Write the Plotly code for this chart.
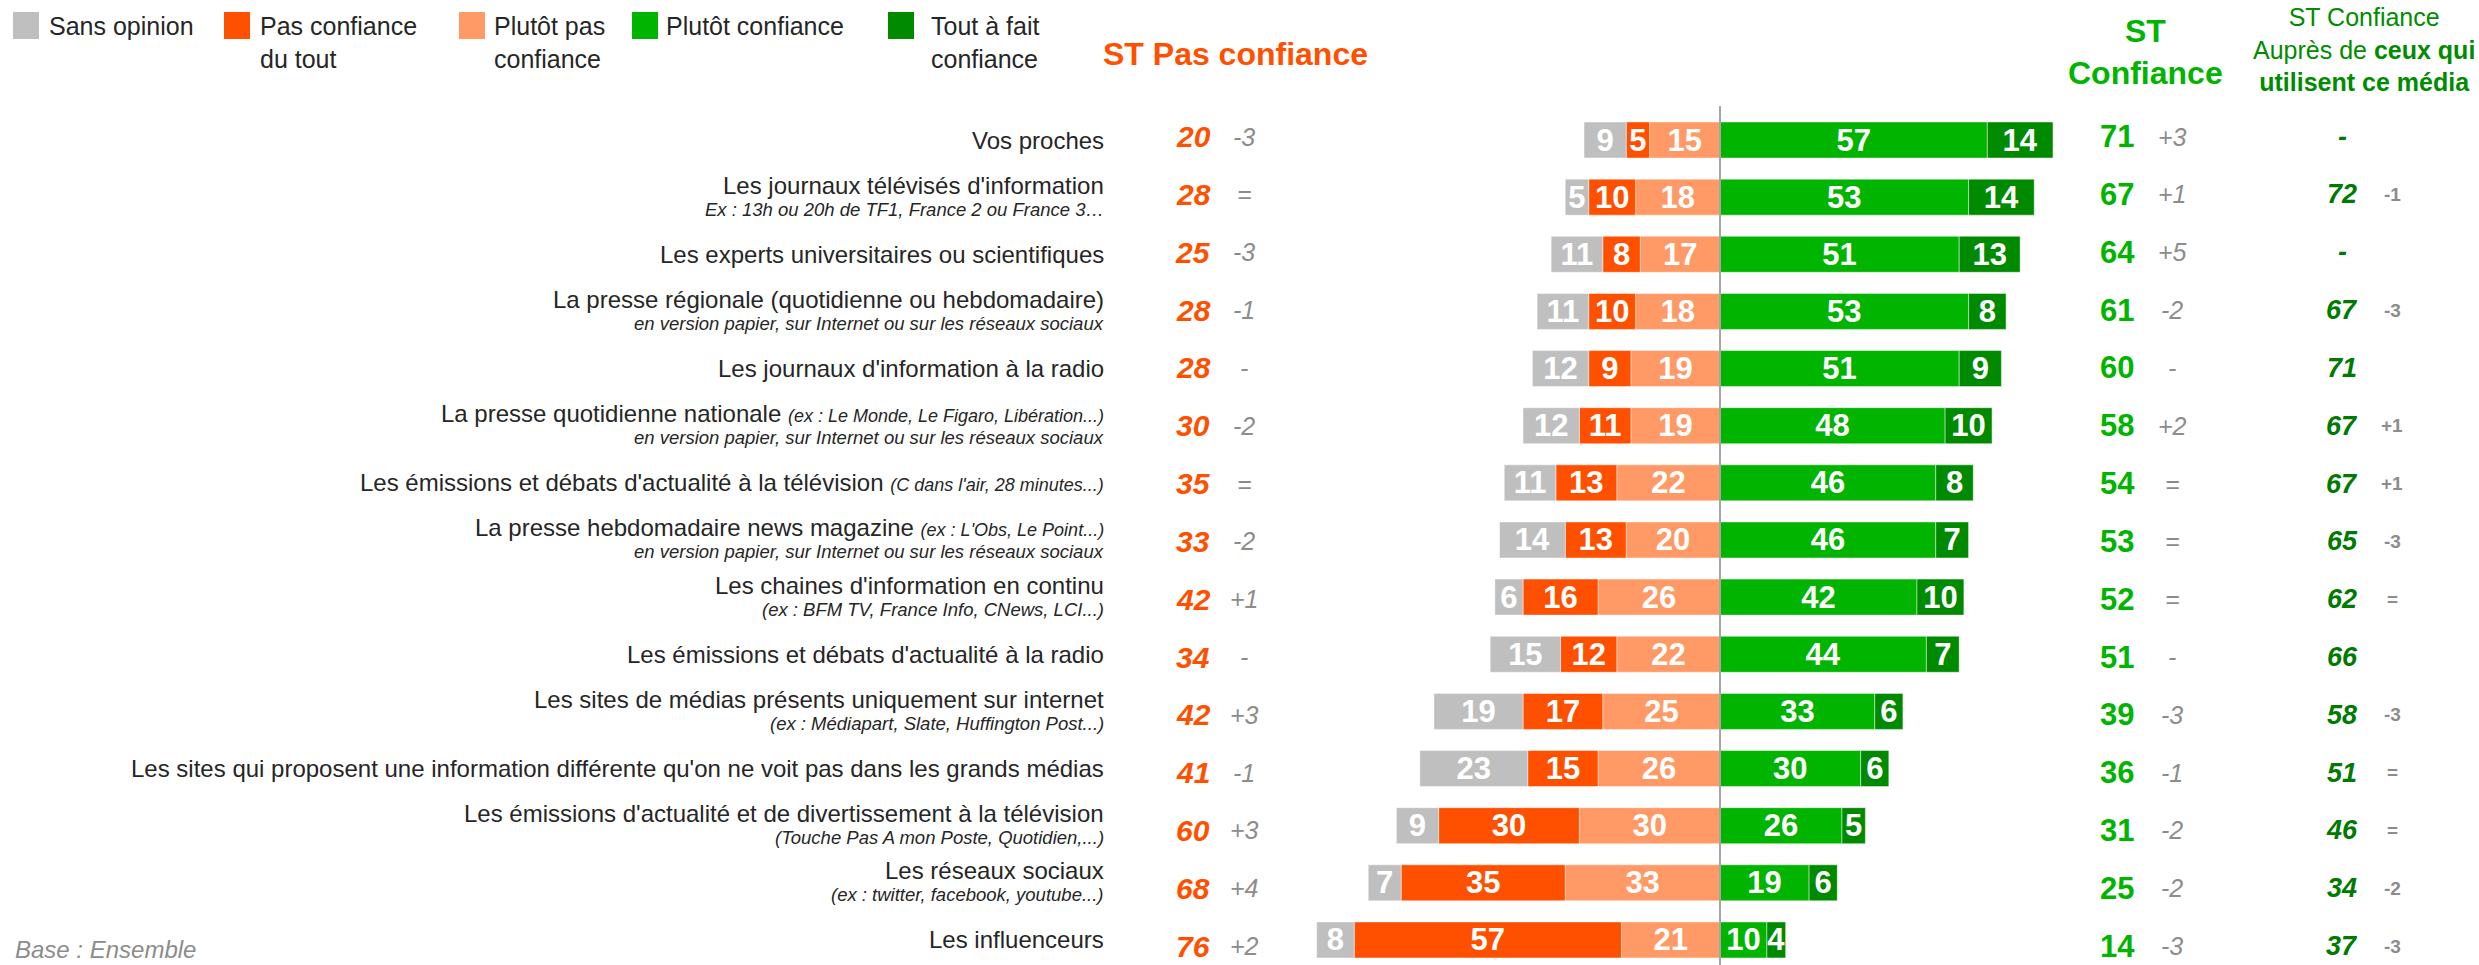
import plotly.graph_objects as go

W, H = 2479, 965

categories = [
    "Vos proches",
    "Les journaux télévisés d'information",
    "Les experts universitaires ou scientifiques",
    "La presse régionale (quotidienne ou hebdomadaire)",
    "Les journaux d'information à la radio",
    "La presse quotidienne nationale",
    "Les émissions et débats d'actualité à la télévision",
    "La presse hebdomadaire news magazine",
    "Les chaines d'information en continu",
    "Les émissions et débats d'actualité à la radio",
    "Les sites de médias présents uniquement sur internet",
    "Les sites qui proposent une information différente qu'on ne voit pas dans les grands médias",
    "Les émissions d'actualité et de divertissement à la télévision",
    "Les réseaux sociaux",
    "Les influenceurs",
]
inline_notes = ["", "", "", "", "", "(ex : Le Monde, Le Figaro, Libération...)",
                "(C dans l'air, 28 minutes...)", "(ex : L'Obs, Le Point...)", "", "", "", "", "", "", ""]
sub_notes = [
    "", "Ex : 13h ou 20h de TF1, France 2 ou France 3…", "",
    "en version papier, sur Internet ou sur les réseaux sociaux", "",
    "en version papier, sur Internet ou sur les réseaux sociaux", "",
    "en version papier, sur Internet ou sur les réseaux sociaux",
    "(ex : BFM TV, France Info, CNews, LCI...)", "",
    "(ex : Médiapart, Slate, Huffington Post...)", "",
    "(Touche Pas A mon Poste, Quotidien,...)",
    "(ex : twitter, facebook, youtube...)", "",
]

sans_opinion = [9, 5, 11, 11, 12, 12, 11, 14, 6, 15, 19, 23, 9, 7, 8]
pas_du_tout = [5, 10, 8, 10, 9, 11, 13, 13, 16, 12, 17, 15, 30, 35, 57]
plutot_pas = [15, 18, 17, 18, 19, 19, 22, 20, 26, 22, 25, 26, 30, 33, 21]
plutot_conf = [57, 53, 51, 53, 51, 48, 46, 46, 42, 44, 33, 30, 26, 19, 10]
tout_a_fait = [14, 14, 13, 8, 9, 10, 8, 7, 10, 7, 6, 6, 5, 6, 4]

st_pas = [20, 28, 25, 28, 28, 30, 35, 33, 42, 34, 42, 41, 60, 68, 76]
st_pas_chg = ["-3", "=", "-3", "-1", "-", "-2", "=", "-2", "+1", "-", "+3", "-1", "+3", "+4", "+2"]
st_conf = [71, 67, 64, 61, 60, 58, 54, 53, 52, 51, 39, 36, 31, 25, 14]
st_conf_chg = ["+3", "+1", "+5", "-2", "-", "+2", "=", "=", "=", "-", "-3", "-1", "-2", "-2", "-3"]
st_users = ["-", "72", "-", "67", "71", "67", "67", "65", "62", "66", "58", "51", "46", "34", "37"]
st_users_chg = ["", "-1", "", "-3", "", "+1", "+1", "-3", "=", "", "-3", "=", "=", "-2", "-3"]

series_names = ["Sans opinion", "Pas confiance<br>du tout", "Plutôt pas<br>confiance",
                "Plutôt confiance", "Tout à fait<br>confiance"]
C_GRAY, C_ORANGE, C_LORANGE, C_GREEN, C_DGREEN = "#BFBFBF", "#FF5000", "#FF9966", "#00B400", "#008A00"
C_HDR = "#008C00"

FONT = "Liberation Sans, Arial, sans-serif"
rows = list(range(len(categories)))

fig = go.Figure()
# left side (stacked outward from zero): plutôt pas, pas du tout, sans opinion
for vals, name, col, neg in [
    (plutot_pas, series_names[2], C_LORANGE, True),
    (pas_du_tout, series_names[1], C_ORANGE, True),
    (sans_opinion, series_names[0], C_GRAY, True),
    (plutot_conf, series_names[3], C_GREEN, False),
    (tout_a_fait, series_names[4], C_DGREEN, False),
]:
    fig.add_trace(go.Bar(
        y=rows, x=[-v if neg else v for v in vals], orientation="h",
        name=name.replace("<br>", " "),
        marker=dict(color=col, line=dict(width=1, color="rgba(255,255,255,0.45)")),
        text=[str(v) for v in vals], textposition="inside", insidetextanchor="middle",
        textangle=0, cliponaxis=False,
        textfont=dict(color="white", size=31, family=FONT, weight="bold"),
        showlegend=False, hoverinfo="skip",
    ))

def px(x):
    return x / W

def py(y):
    return 1 - y / H

ann = []
# category labels
LABEL_X = px(1106)
for i, cat in enumerate(categories):
    main = cat
    if inline_notes[i]:
        main += " <span style='font-size:18px'><i>" + inline_notes[i] + "</i></span>"
    has_sub = bool(sub_notes[i])
    ann.append(dict(x=LABEL_X, y=i, xref="paper", yref="y", text=main, showarrow=False,
                    xanchor="right", yanchor="middle", yshift=12 if has_sub else 0,
                    font=dict(family=FONT, size=24, color="#262626")))
    if has_sub:
        ann.append(dict(x=LABEL_X, y=i, xref="paper", yref="y", text="<i>" + sub_notes[i] + "</i>",
                        showarrow=False, xanchor="right", yanchor="middle", yshift=-12,
                        font=dict(family=FONT, size=18.5, color="#262626")))

# number columns
for i in rows:
    yy = i * 1.012 - 0.06
    ann.append(dict(x=px(1193), y=yy, xref="paper", yref="y", text=str(st_pas[i]), showarrow=False,
                    xanchor="center", yanchor="middle",
                    font=dict(family=FONT, size=30, color=C_ORANGE, weight="bold", style="italic")))
    ann.append(dict(x=px(1244), y=yy, xref="paper", yref="y", text=st_pas_chg[i], showarrow=False,
                    xanchor="center", yanchor="middle",
                    font=dict(family=FONT, size=25, color="#8C8C8C", style="italic")))
    ann.append(dict(x=px(2117), y=yy, xref="paper", yref="y", text=str(st_conf[i]), showarrow=False,
                    xanchor="center", yanchor="middle",
                    font=dict(family=FONT, size=31, color=C_GREEN, weight="bold")))
    ann.append(dict(x=px(2172), y=yy, xref="paper", yref="y", text=st_conf_chg[i], showarrow=False,
                    xanchor="center", yanchor="middle",
                    font=dict(family=FONT, size=25, color="#8C8C8C", style="italic")))
    ann.append(dict(x=px(2342), y=yy, xref="paper", yref="y", text=st_users[i], showarrow=False,
                    xanchor="center", yanchor="middle",
                    font=dict(family=FONT, size=27, color="#007A00", weight="bold", style="italic")))
    if st_users_chg[i]:
        ann.append(dict(x=px(2392), y=yy, xref="paper", yref="y", text=st_users_chg[i], showarrow=False,
                        xanchor="center", yanchor="middle",
                        font=dict(family=FONT, size=19, color="#8C8C8C", weight="bold")))

# headers
ann.append(dict(x=px(1235), y=py(54), xref="paper", yref="paper", text="<b>ST Pas confiance</b>",
                showarrow=False, xanchor="center", yanchor="middle",
                font=dict(family=FONT, size=32, color=C_ORANGE)))
ann.append(dict(x=px(2145), y=py(52), xref="paper", yref="paper", text="<b>ST<br>Confiance</b>",
                showarrow=False, xanchor="center", yanchor="middle",
                font=dict(family=FONT, size=32, color=C_GREEN)))
ann.append(dict(x=px(2364), y=py(50), xref="paper", yref="paper",
                text="ST Confiance<br>Auprès de <b>ceux qui</b><br><b>utilisent ce média</b>",
                showarrow=False, xanchor="center", yanchor="middle",
                font=dict(family=FONT, size=25, color=C_HDR)))
ann.append(dict(x=px(13), y=py(949), xref="paper", yref="paper", text="<i>Base : Ensemble</i>",
                showarrow=False, xanchor="left", yanchor="middle",
                font=dict(family=FONT, size=24, color="#8C8C8C")))

# legend (manual)
shapes = []
legend_items = [
    (series_names[0], C_GRAY, 13, 47),
    (series_names[1], C_ORANGE, 224, 258),
    (series_names[2], C_LORANGE, 459, 492),
    (series_names[3], C_GREEN, 632, 664),
    (series_names[4], C_DGREEN, 888, 929),
]
for name, col, sx, tx in legend_items:
    shapes.append(dict(type="rect", xref="paper", yref="paper", x0=px(sx), x1=px(sx + 26),
                       y0=py(39), y1=py(12), fillcolor=col, line=dict(width=0)))
    ann.append(dict(x=px(tx), y=py(10), xref="paper", yref="paper", text=name, showarrow=False,
                    xanchor="left", yanchor="top", align="left",
                    font=dict(family=FONT, size=25, color="#262626")))

# zero line
shapes.append(dict(type="line", xref="x", yref="paper", x0=0, x1=0, y0=0, y1=py(106),
                   line=dict(color="#A6A6A6", width=2), layer="above"))

ZERO_PX, PPU = 1720, 4.69
fig.update_layout(
    width=W, height=H, margin=dict(l=0, r=0, t=0, b=0),
    barmode="relative", bargap=0.37,
    paper_bgcolor="white", plot_bgcolor="white",
    xaxis=dict(range=[-ZERO_PX / PPU, (W - ZERO_PX) / PPU], visible=False, fixedrange=True),
    yaxis=dict(range=[(H - 140) / 57.14, -140 / 57.14], visible=False, fixedrange=True),
    uniformtext=dict(minsize=31, mode="show"),
    annotations=ann, shapes=shapes,
    font=dict(family=FONT),
)
fig.write_html("out.html", config={"displayModeBar": False},
               post_script="document.body.style.margin='0px';document.body.style.overflow='hidden';")
